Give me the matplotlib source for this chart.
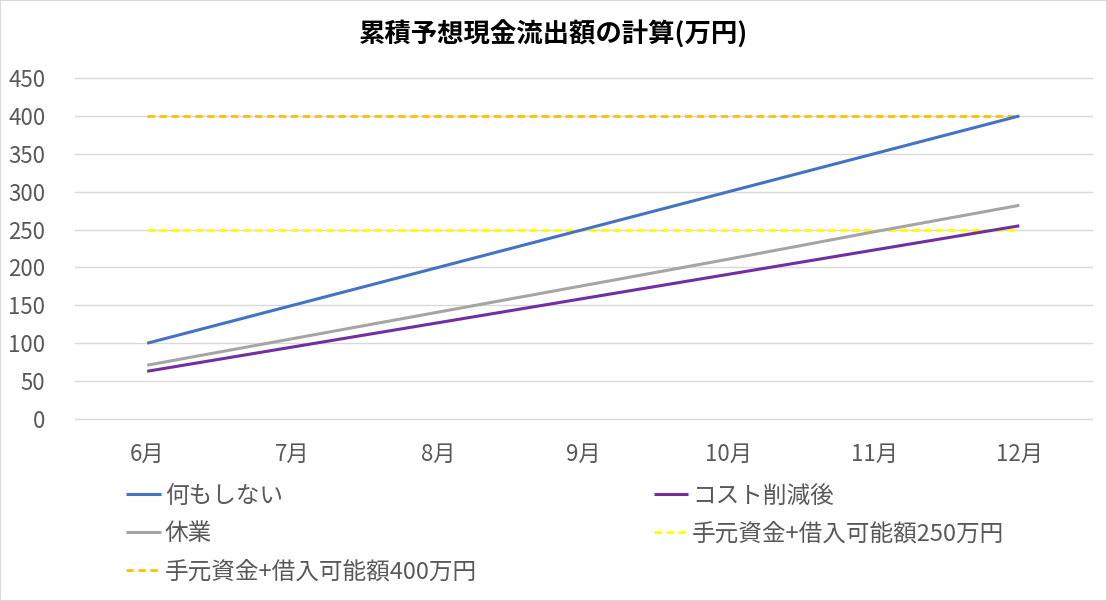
import matplotlib
matplotlib.use("Agg")
import matplotlib.pyplot as plt
from matplotlib.patches import Rectangle

plt.rcParams['font.family'] = ['Noto Sans CJK JP', 'DejaVu Sans']

months = ["6月", "7月", "8月", "9月", "10月", "11月", "12月"]
do_nothing = [100, 150, 200, 250, 300, 350, 400]
cost_cut = [63, 95, 127, 159, 191, 223, 255]
suspend = [71, 106, 141, 176, 211, 247, 282]
limit_250 = [250] * 7
limit_400 = [400] * 7

title = "累積予想現金流出額の計算(万円)"
names = ["何もしない", "コスト削減後", "休業", "手元資金+借入可能額250万円", "手元資金+借入可能額400万円"]

fig = plt.figure(figsize=(11.07, 6.01), dpi=100)
ax = fig.add_axes([0.0673, 0.3028, 0.9192, 0.5674])

x = list(range(len(months)))
l1, = ax.plot(x, do_nothing, color="#4472C4", lw=2.2, solid_capstyle="butt", zorder=3)
l2, = ax.plot(x, cost_cut, color="#7030A0", lw=2.2, solid_capstyle="butt", zorder=3)
l3, = ax.plot(x, suspend, color="#A5A5A5", lw=2.2, solid_capstyle="butt", zorder=3)
l4, = ax.plot(x, limit_250, color="#FFFF00", lw=2.0, dashes=(2.6, 1.7), zorder=2)
l5, = ax.plot(x, limit_400, color="#FFC000", lw=2.0, dashes=(2.6, 1.7), zorder=2)

ax.set_xlim(-0.5, len(months) - 0.5)
ax.set_ylim(0, 450)
ax.set_yticks(range(0, 451, 50))
ax.set_xticks(x)
ax.set_xticklabels(months)
ax.grid(axis="y", color="#D9D9D9", lw=1)
for gl in ax.get_ygridlines():
    gl.set_clip_on(False)
ax.set_axisbelow(True)
for s in ax.spines.values():
    s.set_visible(False)
ax.tick_params(length=0, labelsize=16, colors="#595959")
ax.tick_params(axis="y", pad=21)
ax.tick_params(axis="x", pad=17)

fig.text(0.5, 0.942, title, ha="center", va="center", fontsize=19, fontweight="bold", color="black")

handles = [l1, l3, l5, l2, l4]
labels = [names[0], names[2], names[4], names[1], names[3]]
leg = fig.legend(handles, labels, ncol=2, loc="upper left", bbox_to_anchor=(0.095, 0.229),
                 frameon=False, fontsize=17, handlelength=1.45, handletextpad=0.17,
                 columnspacing=7.5, labelspacing=0.63, labelcolor="#595959")

fig.patches.append(Rectangle((0, 0), 1, 1, transform=fig.transFigure, fill=False,
                             edgecolor="#D9D9D9", lw=1.5))

fig.savefig("out.png", dpi=100)
